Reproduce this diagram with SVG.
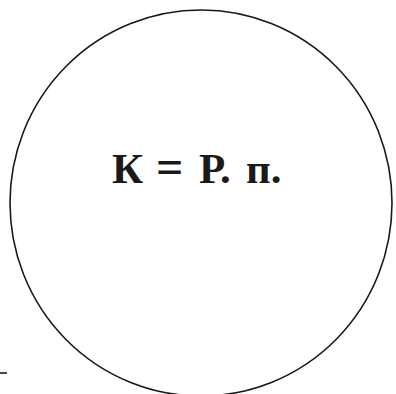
<svg xmlns="http://www.w3.org/2000/svg" width="396" height="394" viewBox="0 0 396 394">
<style>
.outline{fill:none;stroke:#1a1a1a;stroke-width:1.6}
.lbl{font-family:"Liberation Serif","Times New Roman",serif;font-weight:bold;font-size:43px;fill:#1a1a1a}
</style>
<rect width="396" height="394" fill="#ffffff"/>
<g id="circle-node">
<ellipse class="outline" cx="201" cy="203" rx="191" ry="193"/>
<text class="lbl" y="183"><tspan x="112">К</tspan><tspan x="156" font-size="48">=</tspan><tspan x="199">Р.</tspan><tspan x="246">п.</tspan></text>
</g>
<g id="connectors">
<line x1="0" y1="373" x2="7" y2="373" stroke="#1a1a1a" stroke-width="1.6"/>
</g>
</svg>
